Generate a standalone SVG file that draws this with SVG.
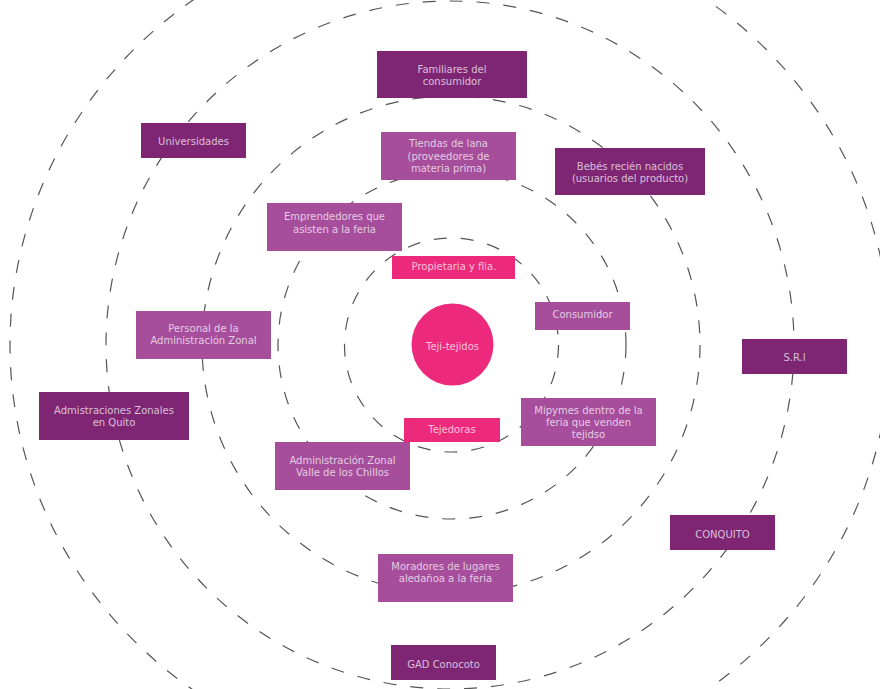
<svg xmlns="http://www.w3.org/2000/svg" width="880" height="689" viewBox="0 0 880 689">
<style>
.ring{fill:none;stroke:#555;stroke-width:1.2;stroke-dasharray:13 14}
.dark{fill:#7e2574}
.mid{fill:#a64e9c}
.pink{fill:#ec297b}
text{font-family:"DejaVu Sans","Liberation Sans",sans-serif;font-size:10px;fill:#fff;fill-opacity:0.72;text-anchor:middle}
</style>
<rect width="880" height="689" fill="#fff"/>
<g id="connectors">
<circle class="ring" cx="451.5" cy="345" r="107"/>
<circle class="ring" cx="452" cy="345" r="174"/>
<circle class="ring" cx="451" cy="345" r="249"/>
<circle class="ring" cx="450" cy="345" r="344"/>
<ellipse class="ring" cx="450" cy="345" rx="440" ry="425"/>
</g>
<g id="familiares"><rect class="dark" x="377" y="51" width="150" height="47"/><text x="452" y="73">Familiares del<tspan x="452" dy="12">consumidor</tspan></text></g>
<g id="universidades"><rect class="dark" x="141" y="123" width="105" height="35"/><text x="193.5" y="144.5">Universidades</text></g>
<g id="tiendas"><rect class="mid" x="381" y="132" width="135" height="48"/><text x="448.5" y="147">Tiendas de lana<tspan x="448.5" dy="12.5">(proveedores de</tspan><tspan x="448.5" dy="12">materia prima)</tspan></text></g>
<g id="bebes"><rect class="dark" x="555" y="148" width="150" height="47"/><text x="630" y="170">Bebés recién nacidos<tspan x="630" dy="12">(usuarios del producto)</tspan></text></g>
<g id="emprendedores"><rect class="mid" x="267" y="203" width="135" height="48"/><text x="334.5" y="220">Emprendedores que<tspan x="334.5" dy="13">asisten a la feria</tspan></text></g>
<g id="propietaria"><rect class="pink" x="392" y="256" width="123" height="23"/><text x="454" y="270">Propietaria y flia.</text></g>
<g id="consumidor"><rect class="mid" x="535" y="302" width="95" height="28"/><text x="582.5" y="318">Consumidor</text></g>
<g id="personal"><rect class="mid" x="136" y="311" width="135" height="48"/><text x="203.5" y="331.5">Personal de la<tspan x="203.5" dy="12">Administración Zonal</tspan></text></g>
<g id="teji"><circle class="pink" cx="452.5" cy="344.5" r="41"/><text x="452.5" y="350">Teji-tejidos</text></g>
<g id="sri"><rect class="dark" x="742" y="339" width="105" height="35"/><text x="794.5" y="360.5">S.R.I</text></g>
<g id="admzonales"><rect class="dark" x="39" y="392" width="150" height="48"/><text x="114" y="413.5">Admistraciones Zonales<tspan x="114" dy="12">en Quito</tspan></text></g>
<g id="tejedoras"><rect class="pink" x="404" y="418" width="96" height="24"/><text x="452" y="432.5">Tejedoras</text></g>
<g id="mipymes"><rect class="mid" x="521" y="398" width="135" height="48"/><text x="588.5" y="413.5">Mipymes dentro de la<tspan x="588.5" dy="12">feria que venden</tspan><tspan x="588.5" dy="12">tejidso</tspan></text></g>
<g id="admvalle"><rect class="mid" x="275" y="442" width="135" height="48"/><text x="342.5" y="463.5">Administración Zonal<tspan x="342.5" dy="12">Valle de los Chillos</tspan></text></g>
<g id="conquito"><rect class="dark" x="670" y="515" width="105" height="35"/><text x="722.5" y="538">CONQUITO</text></g>
<g id="moradores"><rect class="mid" x="378" y="554" width="135" height="48"/><text x="445.5" y="570">Moradores de lugares<tspan x="445.5" dy="12">aledañoa a la feria</tspan></text></g>
<g id="gad"><rect class="dark" x="391" y="645" width="105" height="35"/><text x="443.5" y="667.5">GAD Conocoto</text></g>
</svg>
